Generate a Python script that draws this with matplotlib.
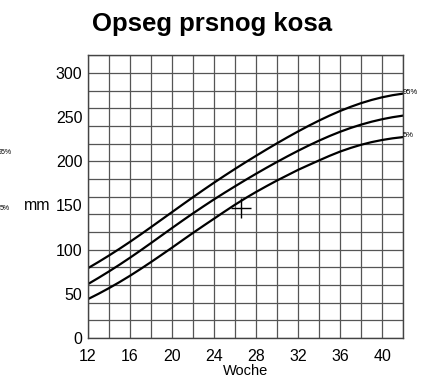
import matplotlib.pyplot as plt
import numpy as np

# Data (weeks vs chest circumference in mm)
weeks = list(range(12, 43))
p95 = [79.0, 86.0, 93.3, 100.9, 108.8, 117.0, 125.4, 133.9, 142.4, 150.9, 159.3,
       167.6, 175.7, 183.6, 191.3, 198.8, 206.1, 213.3, 220.3, 227.1, 233.7, 240.0,
       246.0, 251.6, 256.8, 261.5, 265.7, 269.3, 272.3, 274.7, 276.5]
p50 = [61.0, 68.0, 75.3, 82.9, 90.8, 99.0, 107.4, 115.9, 124.4, 132.8, 141.0,
       149.0, 156.8, 164.3, 171.6, 178.8, 185.8, 192.6, 199.2, 205.6, 211.8, 217.7,
       223.3, 228.5, 233.3, 237.6, 241.4, 244.7, 247.5, 249.8, 251.6]
p05 = [44.0, 50.0, 56.4, 63.2, 70.4, 78.0, 85.9, 94.0, 102.2, 110.6, 118.9,
       127.0, 135.0, 143.0, 150.8, 158.2, 165.2, 171.8, 178.2, 184.2, 190.2, 195.6,
       200.9, 206.1, 210.9, 215.0, 218.6, 221.6, 224.0, 225.9, 227.3]
measure_week = [26.6]
measure_mm = [146.7]

x_ticks = [12, 16, 20, 24, 28, 32, 36, 40]
y_ticks = [0, 50, 100, 150, 200, 250, 300]

plt.rcParams['font.family'] = ['Liberation Sans', 'DejaVu Sans']

fig = plt.figure(figsize=(4.27, 3.83), dpi=100)
ax = fig.add_axes([0.206, 0.1175, 0.738, 0.7385])

# grid lines every 2 weeks / 20 mm (minor ticks, kept even where a major tick sits)
ax.set_xticks(np.arange(12, 43, 2), minor=True)
ax.set_yticks(np.arange(0, 321, 20), minor=True)
ax.xaxis.remove_overlapping_locs = False
ax.yaxis.remove_overlapping_locs = False
ax.grid(True, which='minor', color='#555555', linewidth=0.9)
ax.grid(False, which='major')
ax.set_axisbelow(True)

for vals in (p95, p50, p05):
    ax.plot(weeks, vals, color='black', linewidth=1.6, solid_capstyle='round')

ax.plot(measure_week, measure_mm, marker='+', color='black',
        markersize=15, markeredgewidth=1.0, linestyle='none')

ax.set_xlim(12, 42)
ax.set_ylim(0, 320)
ax.set_xticks(x_ticks)
ax.set_yticks(y_ticks)
ax.tick_params(which='both', length=0, labelsize=11.5)
ax.tick_params(axis='y', pad=4)
ax.tick_params(axis='x', pad=8)
for s in ax.spines.values():
    s.set_color('#444444')
    s.set_linewidth(1.0)

ax.set_xlabel('Woche', fontsize=10.5, labelpad=0)
ax.annotate('mm', xy=(-0.12, 150), xycoords=('axes fraction', 'data'),
            ha='right', va='center', fontsize=11.5)

# percentile labels at the right end
ax.annotate('95%', xy=(42, p95[-1]), xytext=(0, 1), textcoords='offset points',
            ha='left', va='center', fontsize=5.5, annotation_clip=False)
ax.annotate('5%', xy=(42, p05[-1]), xytext=(0, 1), textcoords='offset points',
            ha='left', va='center', fontsize=5.5, annotation_clip=False)

# remnants of a neighbouring chart at the left edge
fig.text(12 / 427, 1 - 153 / 383, '95%', ha='right', va='center', fontsize=5)
fig.text(10 / 427, 1 - 209 / 383, '5%', ha='right', va='center', fontsize=5)

fig.suptitle('Opseg prsnog kosa', x=212 / 427, y=1 - 12 / 383, va='top',
             fontsize=18.5, fontweight='bold')

fig.savefig('out.png', dpi=100)
